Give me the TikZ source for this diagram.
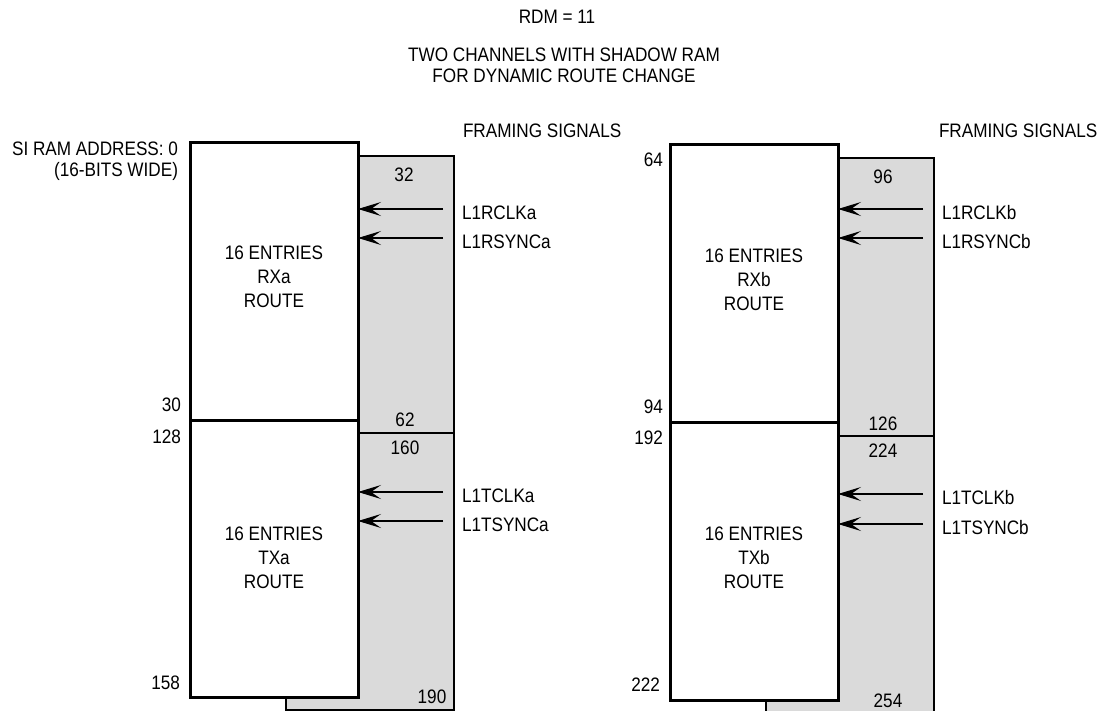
\documentclass[tikz,border=0pt]{standalone}
\usepackage{fontspec}
\setmainfont{Liberation Sans}[FakeStretch=0.88]
\usetikzlibrary{arrows.meta}
\definecolor{shade}{RGB}{218,218,218}
\begin{document}
\begin{tikzpicture}[x=1pt,y=-1pt,
  every node/.style={font=\fontsize{19.5}{23}\selectfont, inner sep=0pt, outer sep=0pt},
  front/.style={draw, fill=white, line width=3pt, anchor=north west, minimum width=168pt, minimum height=277pt},
  shadow/.style={draw, fill=shade, line width=2.4pt, anchor=north west, minimum width=168pt, minimum height=277pt},
  boxtext/.style={align=center, font=\fontsize{19.5}{24}\selectfont},
  sig/.style={line width=1.1pt, -{Stealth[length=23pt,width=14pt,inset=10pt]}},
  lbl/.style={anchor=west},
  lnum/.style={anchor=east}]
\useasboundingbox (0,0) rectangle (1100,711);
\clip (0,0) rectangle (1100,711);

% titles
\node (rdm) at (557,17) {RDM = 11};
\node[align=center, font=\fontsize{19.5}{21}\selectfont] (title) at (564,65) {TWO CHANNELS WITH SHADOW RAM\\FOR DYNAMIC ROUTE CHANGE};

% ---------- channel a ----------
\node[shadow] (sra) at (286,156) {};
\node[shadow] (sta) at (286,433) {};
\node[front] (rxa) at (190,143) {};
\node[front] (txa) at (190,420) {};
\node[boxtext] (rxat) at ([yshift=5pt]rxa.center) {16 ENTRIES\\RXa\\ROUTE};
\node[boxtext] (txat) at ([yshift=1pt]txa.center) {16 ENTRIES\\TXa\\ROUTE};

\node[anchor=west] (fsa) at (463,131) {FRAMING SIGNALS};
\node[align=right, anchor=east, font=\fontsize{19.5}{21}\selectfont] (addr) at (178,161) {SI RAM ADDRESS: 0\\(16-BITS WIDE)};

\node[lnum] (n30) at (181,405) {30};
\node[lnum] (n128) at (181,437) {128};
\node[lnum] (n158) at (180,683) {158};
\node (n32) at (404,175) {32};
\node (n62) at (405,420) {62};
\node (n160) at (405,448) {160};
\node (n190) at (432,697) {190};

\node[lbl] (la1) at (462,212.5) {L1RCLKa};
\node[lbl] (la2) at (462,241.5) {L1RSYNCa};
\node[lbl] (la3) at (462,495.5) {L1TCLKa};
\node[lbl] (la4) at (462,524.5) {L1TSYNCa};
\foreach \l/\b in {la1/rxa,la2/rxa,la3/txa,la4/txa}
  \draw[sig] ([xshift=-19pt,yshift=3.5pt]\l.west) -- ([yshift=3.5pt]\l.west -| \b.east);

% ---------- channel b ----------
\node[shadow, minimum height=278pt] (srb) at (766,158) {};
\node[shadow, minimum height=278pt] (stb) at (766,436) {};
\node[front, minimum height=277pt] (rxb) at (670,145) {};
\node[front, minimum height=278pt] (txb) at (670,422) {};
\node[boxtext] (rxbt) at ([yshift=4pt]rxb.center) {16 ENTRIES\\RXb\\ROUTE};
\node[boxtext] (txbt) at ([yshift=3pt]txb.center) {16 ENTRIES\\TXb\\ROUTE};

\node[anchor=west] (fsb) at (939,131) {FRAMING SIGNALS};

\node[lnum] (n64) at (663,160) {64};
\node[lnum] (n94) at (663,407) {94};
\node[lnum] (n192) at (663,438) {192};
\node[lnum] (n222) at (660,685) {222};
\node (n96) at (883,177) {96};
\node (n126) at (883,424) {126};
\node (n224) at (883,451) {224};
\node (n254) at (888,701) {254};

\node[lbl] (lb1) at (942,212.5) {L1RCLKb};
\node[lbl] (lb2) at (942,241.5) {L1RSYNCb};
\node[lbl] (lb3) at (942,497.5) {L1TCLKb};
\node[lbl] (lb4) at (942,527.5) {L1TSYNCb};
\foreach \l/\b in {lb1/rxb,lb2/rxb,lb3/txb,lb4/txb}
  \draw[sig] ([xshift=-19pt,yshift=3.5pt]\l.west) -- ([yshift=3.5pt]\l.west -| \b.east);
\end{tikzpicture}
\end{document}
